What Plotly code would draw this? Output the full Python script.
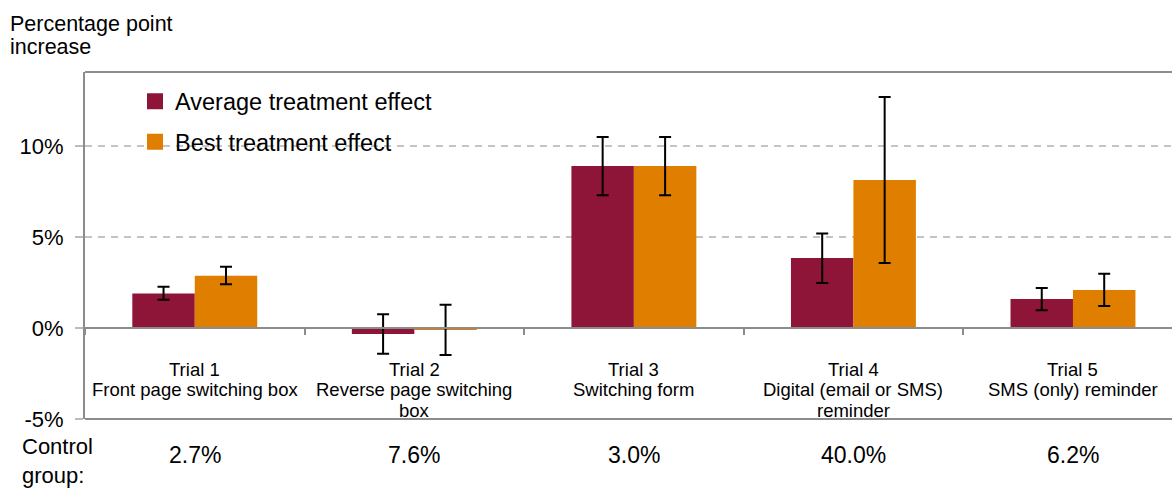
import plotly.graph_objects as go

# ---- data ----
categories = ["Trial 1", "Trial 2", "Trial 3", "Trial 4", "Trial 5"]
descriptions = [
    ["Front page switching box"],
    ["Reverse page switching", "box"],
    ["Switching form"],
    ["Digital (email or SMS)", "reminder"],
    ["SMS (only) reminder"],
]
avg_effect = [1.9, -0.33, 8.9, 3.85, 1.6]
avg_upper = [2.27, 0.75, 10.5, 5.2, 2.2]
avg_lower = [1.55, -1.41, 7.3, 2.48, 0.97]
best_effect = [2.87, -0.1, 8.9, 8.13, 2.09]
best_upper = [3.37, 1.28, 10.5, 12.7, 2.98]
best_lower = [2.4, -1.48, 7.3, 3.58, 1.21]
control_group = ["2.7%", "7.6%", "3.0%", "40.0%", "6.2%"]
y_tick_values = [-5, 0, 5, 10]
y_tick_labels = ["-5%", "0%", "5%", "10%"]
series_names = ["Average treatment effect", "Best treatment effect"]

# ---- style ----
FONT = "Arial, 'Liberation Sans', sans-serif"
MAROON = "#8E1538"
ORANGE = "#E07E00"
AXIS_GREY = "#8C8C8C"
Y_MIN, Y_MAX = -5, 14.07
X_RANGE = [-0.5, 4.451]

fig = go.Figure()


def err(values, upper, lower):
    return dict(type="data", symmetric=False,
                array=[u - v for u, v in zip(upper, values)],
                arrayminus=[v - l for v, l in zip(values, lower)],
                color="black", thickness=2, width=6)


fig.add_trace(go.Bar(x=categories, y=avg_effect, name=series_names[0],
                     marker=dict(color=MAROON, line=dict(width=0)),
                     error_y=err(avg_effect, avg_upper, avg_lower),
                     showlegend=False))
fig.add_trace(go.Bar(x=categories, y=best_effect, name=series_names[1],
                     marker=dict(color=ORANGE, line=dict(width=0)),
                     error_y=err(best_effect, best_upper, best_lower),
                     showlegend=False))
# legend entries (square swatches)
for i, (name, col) in enumerate(zip(series_names, [MAROON, ORANGE])):
    fig.add_trace(go.Scatter(x=[None], y=[None], mode="markers", name=name,
                             legendgroup=f"g{i}",
                             marker=dict(symbol="square", size=17, color=col)))

zero_pos = (0 - Y_MIN) / (Y_MAX - Y_MIN)

annotations = []
# category labels below zero line
for cat, desc in zip(categories, descriptions):
    lines = [cat] + desc
    for k, line in enumerate(lines):
        annotations.append(dict(x=cat, xref="x", y=0, yref="y", text=line,
                                showarrow=False, xanchor="center", yanchor="middle",
                                yshift=-(41 + 20.7 * k),
                                font=dict(family=FONT, size=18.5, color="black")))
# control group values
for cat, val in zip(categories, control_group):
    annotations.append(dict(x=cat, xref="x", y=Y_MIN, yref="y", text=val,
                            showarrow=False, xanchor="center", yanchor="middle",
                            yshift=-36, font=dict(family=FONT, size=23, color="black")))
annotations.append(dict(x=-65 / 1087, xref="paper", y=Y_MIN, yref="y",
                        text="Control<br>group:", align="left",
                        showarrow=False, xanchor="left", yanchor="middle",
                        yshift=-42, font=dict(family=FONT, size=22, color="black")))
# axis title
for k, line in enumerate(["Percentage point", "increase"]):
    annotations.append(dict(x=-77 / 1087, xref="paper", y=1, yref="paper", text=line,
                            showarrow=False, xanchor="left", yanchor="middle",
                            yshift=48 - 23.3 * k,
                            font=dict(family=FONT, size=21.5, color="black")))

shapes = [
    dict(type="line", xref="paper", yref="paper", x0=0, x1=1.05, y0=1, y1=1,
         line=dict(color=AXIS_GREY, width=2)),
    dict(type="line", xref="paper", yref="paper", x0=0, x1=1.05, y0=0, y1=0,
         line=dict(color=AXIS_GREY, width=2)),
    # legend background hiding the gridline behind it
    dict(type="rect", xref="paper", yref="y", x0=0, x1=410 / 1087, y0=9.5, y1=10.5,
         fillcolor="white", line=dict(width=0), layer="between"),
]

fig.update_layout(
    width=1172, height=491,
    margin=dict(l=85, r=0, t=72, b=72),
    paper_bgcolor="white", plot_bgcolor="white",
    barmode="group", bargap=0.431, bargroupgap=0,
    font=dict(family=FONT, color="black"),
    showlegend=True,
    legend=dict(x=50 / 1087, y=(419 - 122) / 347, xanchor="left", yanchor="middle",
                bgcolor="rgba(0,0,0,0)", font=dict(family=FONT, size=23.5, color="black"),
                itemclick=False, tracegroupgap=7),
    xaxis=dict(type="category", range=X_RANGE, anchor="free", position=zero_pos,
               showline=True, linecolor=AXIS_GREY, linewidth=2,
               ticks="outside", ticklen=6, tickwidth=2, tickcolor=AXIS_GREY,
               tickson="boundaries", showticklabels=False, showgrid=False, zeroline=False),
    yaxis=dict(range=[Y_MIN, Y_MAX], tickvals=y_tick_values, ticktext=y_tick_labels,
               showline=True, linecolor=AXIS_GREY, linewidth=2,
               ticks="outside", ticklen=8, tickwidth=2, tickcolor="#BBBBBB",
               ticklabelstandoff=7,
               tickfont=dict(family=FONT, size=22, color="black"),
               showgrid=True, gridcolor="#C4C4C4", gridwidth=2, griddash="7px,6px",
               zeroline=False),
    yaxis2=dict(range=[Y_MIN, Y_MAX], tickvals=y_tick_values, overlaying="y", side="left",
                anchor="x", ticks="inside", ticklen=7, tickwidth=2, tickcolor="#BBBBBB",
                showticklabels=False, showgrid=False, zeroline=False, showline=False),
    annotations=annotations,
    shapes=shapes,
)

fig.write_html("out.html", config={"displayModeBar": False},
               post_script="document.body.style.margin='0';document.body.style.overflow='hidden';")
